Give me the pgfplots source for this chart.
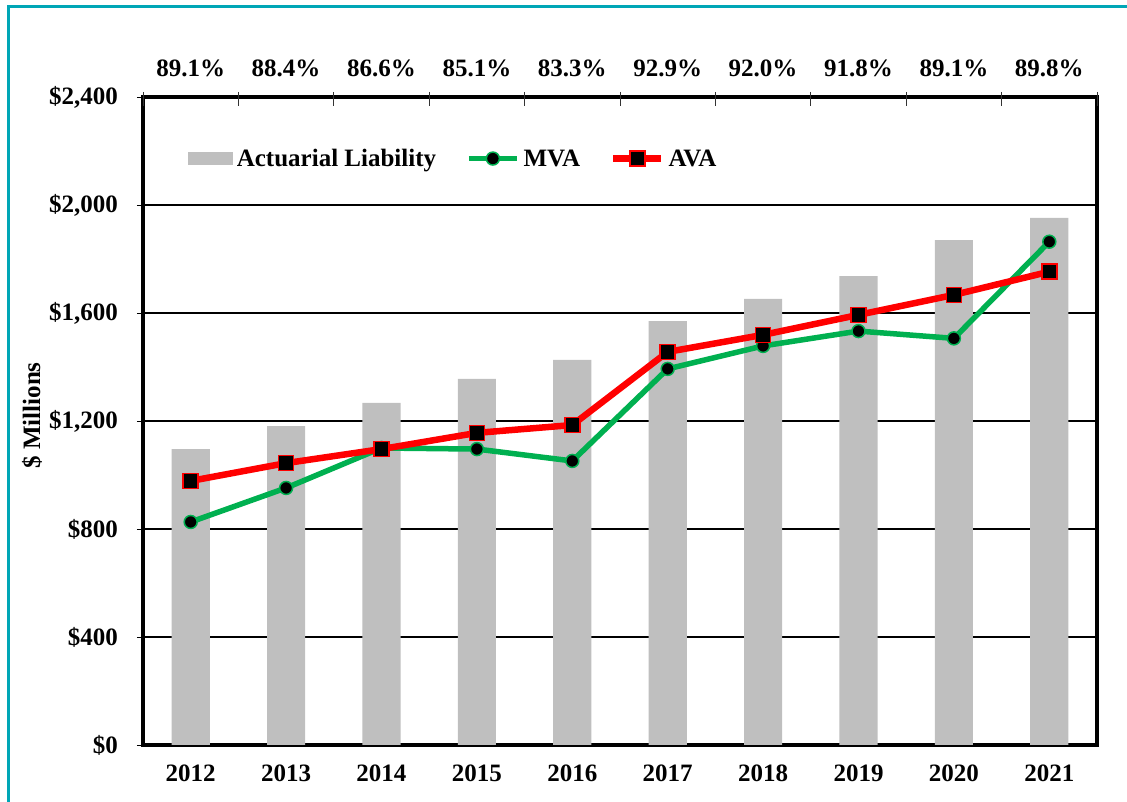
\documentclass[border=0pt]{standalone}
\usepackage{fontspec}
\setmainfont{Liberation Serif}
\usepackage{pgfplots}
\pgfplotsset{compat=1.18}
\definecolor{barcol}{RGB}{191,191,191}
\definecolor{mvacol}{RGB}{0,176,80}
\definecolor{avacol}{RGB}{255,0,0}
\definecolor{framecol}{RGB}{0,166,182}
\newcommand{\ff}{\fontsize{25}{29}\selectfont\bfseries}
\pgfplotsset{
  barleg/.style={legend image code/.code={\fill[barcol] (0pt,-6.5pt) rectangle (45pt,6.5pt);}},
  lineleg/.style={legend image code/.code={\draw[mark repeat=2,mark phase=2,##1] plot coordinates {(0pt,0pt) (24pt,0pt) (48pt,0pt)};}},
}
\begin{document}
\begin{tikzpicture}
\path[use as bounding box] (-143pt,-57pt) rectangle (984pt,745pt);
\draw[framecol, line width=3pt] (-134pt,-70pt) -- (-134pt,738pt) -- (1000pt,738pt);
\begin{axis}[
  at={(0pt,0pt)}, anchor=south west,
  scale only axis, width=954pt, height=648pt,
  xmin=-0.5, xmax=9.5, ymin=0, ymax=2400,
  clip=false,
  axis line style={line width=3.5pt},
  xtick={0,...,9},
  xticklabels={2012,2013,2014,2015,2016,2017,2018,2019,2020,2021},
  x tick style={draw=none},
  ytick={0,400,800,1200,1600,2000,2400},
  yticklabels={{\$0},{\$400},{\$800},{\$1,200},{\$1,600},{\$2,000},{\$2,400}},
  ytick pos=left,
  y tick style={black, line width=0.8pt},
  tick align=center,
  major tick length=12pt,
  ymajorgrids,
  major grid style={black, line width=1.2pt},
  tick label style={font=\ff, inner sep=0pt},
  xticklabel style={yshift=-14pt},
  yticklabel style={xshift=-19pt},
  ylabel={\$ Millions},
  every axis y label/.style={at={(axis description cs:-0.1164,0.5085)}, rotate=90, anchor=center, font=\ff},
  legend columns=3,
  legend style={draw=none, fill=none, font=\ff, inner sep=0pt, outer sep=0pt,
    at={(rel axis cs:0.047,0.905)}, anchor=west,
    nodes={inner sep=0pt},
    /tikz/every odd column/.append style={column sep=4pt},
    /tikz/every even column/.append style={column sep=30pt}},
]
\addplot[ybar, bar width=0.4, fill=barcol, draw=none, barleg]
  coordinates {(0,1096) (1,1181) (2,1267) (3,1356) (4,1426) (5,1570) (6,1652) (7,1737) (8,1870) (9,1952)};
\addlegendentry{Actuarial Liability}
\addplot[mvacol, line width=5.5pt, mark=*, mark size=6.5pt,
  mark options={fill=black, draw=mvacol, line width=1.5pt}, lineleg]
  coordinates {(0,826) (1,952) (2,1100) (3,1096) (4,1052) (5,1393) (6,1478) (7,1533) (8,1506) (9,1864)};
\addlegendentry{MVA}
\addplot[avacol, line width=6.5pt, mark=square*, mark size=7.5pt,
  mark options={fill=black, draw=avacol, line width=1.5pt}, lineleg]
  coordinates {(0,978) (1,1044) (2,1096) (3,1156) (4,1185) (5,1456) (6,1519) (7,1593) (8,1667) (9,1753)};
\addlegendentry{AVA}
\pgfplotsinvokeforeach{-0.5,0.5,1.5,2.5,3.5,4.5,5.5,6.5,7.5,8.5,9.5}{
  \draw[black!80, line width=0.8pt] (axis cs:#1,2400) ++(0pt,5pt) -- ++(0pt,-14pt);
}
\node[font=\ff, anchor=base] at (axis cs:0,2400) [yshift=20pt] {89.1\%};
\node[font=\ff, anchor=base] at (axis cs:1,2400) [yshift=20pt] {88.4\%};
\node[font=\ff, anchor=base] at (axis cs:2,2400) [yshift=20pt] {86.6\%};
\node[font=\ff, anchor=base] at (axis cs:3,2400) [yshift=20pt] {85.1\%};
\node[font=\ff, anchor=base] at (axis cs:4,2400) [yshift=20pt] {83.3\%};
\node[font=\ff, anchor=base] at (axis cs:5,2400) [yshift=20pt] {92.9\%};
\node[font=\ff, anchor=base] at (axis cs:6,2400) [yshift=20pt] {92.0\%};
\node[font=\ff, anchor=base] at (axis cs:7,2400) [yshift=20pt] {91.8\%};
\node[font=\ff, anchor=base] at (axis cs:8,2400) [yshift=20pt] {89.1\%};
\node[font=\ff, anchor=base] at (axis cs:9,2400) [yshift=20pt] {89.8\%};
\end{axis}
\end{tikzpicture}
\end{document}
